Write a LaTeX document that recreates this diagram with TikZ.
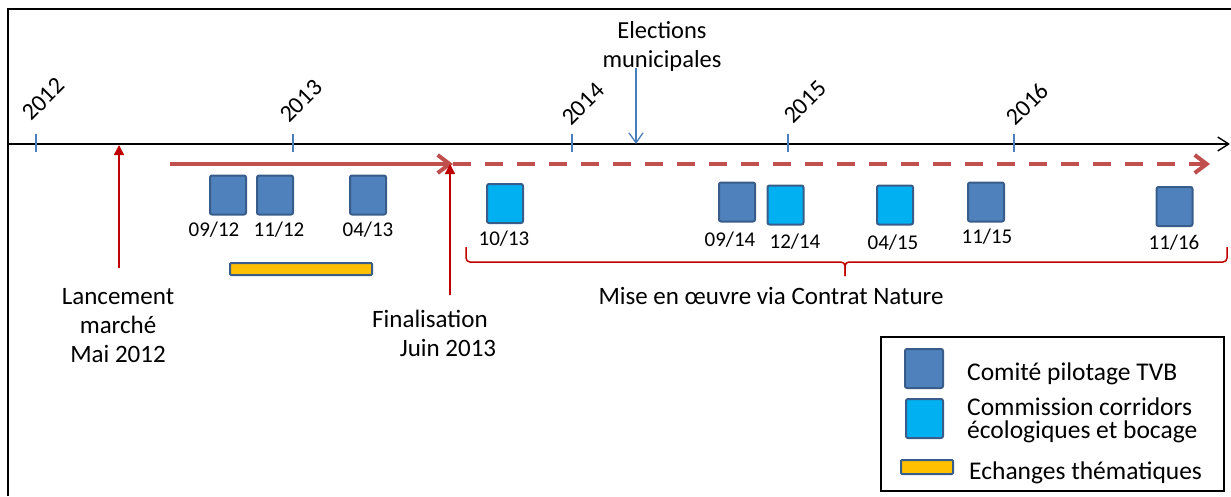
\documentclass[tikz,border=0pt]{standalone}
\usepackage{fontspec}
\setmainfont{Carlito}
\usetikzlibrary{arrows.meta}
\definecolor{dkblue}{HTML}{4F81BD}
\definecolor{bordblue}{HTML}{385D8A}
\definecolor{ltblue}{HTML}{00B0F0}
\definecolor{orangebar}{HTML}{FFC000}
\definecolor{darkred}{HTML}{C00000}
\definecolor{softred}{HTML}{C0504D}
\definecolor{tickblue}{HTML}{4A7EBB}
\begin{document}
\begin{tikzpicture}[x=1pt,y=-1pt,
  comite/.style={draw=bordblue, fill=dkblue, line width=2pt, rounded corners=2pt, minimum width=36pt, minimum height=39pt, inner sep=0pt},
  commission/.style={comite, fill=ltblue},
  echange/.style={draw=bordblue, fill=orangebar, line width=2pt, rounded corners=1pt, inner sep=0pt},
  datelbl/.style={font=\fontsize{21}{25}\selectfont, inner sep=0pt},
  yearlbl/.style={font=\fontsize{24}{26}\selectfont, rotate=45, inner sep=0pt},
  txt/.style={font=\fontsize{25}{29}\selectfont, align=center, inner sep=0pt},
  legtxt/.style={font=\fontsize{25.5}{23}\selectfont, align=left, inner sep=0pt, anchor=west},
  yeartick/.style={draw=tickblue, line width=1.3pt},
  milestone/.style={draw=darkred, line width=1.5pt, -{Triangle[length=10pt,width=10pt]}},
  phase/.style={draw=softred, line width=4pt, -{Straight Barb[length=12pt,width=18pt]}},
  bracestyle/.style={draw=darkred, line width=1.5pt, rounded corners=4pt},
]
\useasboundingbox (0,0) rectangle (1231,496);
% frame
\draw[line width=2.2pt] (8,496) -- (8,9) -- (1231,9);
% axis
\coordinate (axs) at (8,144);
\coordinate (axe) at (1230,144);
\draw[line width=1.4pt, -{Straight Barb[length=11pt,width=14pt]}] (axs) -- (axe);
% ticks and years
\coordinate (t12a) at (36,134); \coordinate (t12b) at (36,152);
\coordinate (t13a) at (293,134); \coordinate (t13b) at (293,152);
\coordinate (t14a) at (572,134); \coordinate (t14b) at (572,152);
\coordinate (t15a) at (788,134); \coordinate (t15b) at (788,152);
\coordinate (t16a) at (1014,134); \coordinate (t16b) at (1014,152);
\draw[yeartick] (t12a) -- (t12b);
\draw[yeartick] (t13a) -- (t13b);
\draw[yeartick] (t14a) -- (t14b);
\draw[yeartick] (t15a) -- (t15b);
\draw[yeartick] (t16a) -- (t16b);
\node[yearlbl] (y12) at (43.5,99) {2012};
\node[yearlbl] (y13) at (301,101) {2013};
\node[yearlbl] (y14) at (583,104) {2014};
\node[yearlbl] (y15) at (805,102) {2015};
\node[yearlbl] (y16) at (1027.5,104) {2016};
% elections
\node[txt, font=\fontsize{24.5}{29}\selectfont] (elec) at (662,46) {Elections\\municipales};
\coordinate (elecs) at (636,68);
\coordinate (elece) at (636,144);
\draw[draw=tickblue, line width=1.3pt, -{Straight Barb[length=10pt,width=14pt]}] (elecs) -- (elece);
% phases
\coordinate (p1s) at (170,164);
\coordinate (p1e) at (453,164);
\coordinate (p2e) at (1210,164);
\draw[phase] (p1s) -- (p1e);
\draw[phase, dash pattern=on 18pt off 14pt] (p1e) -- (p2e);
% milestones
\node[txt] (lanc) at (118,326) {Lancement\\marché\\Mai 2012};
\coordinate (lancs) at (119,268);
\coordinate (lance) at (119,145);
\draw[milestone] (lancs) -- (lance);
\node[txt] (fin) at (430,333) {Finalisation\\\hspace*{36pt}Juin 2013};
\coordinate (fins) at (450,295);
\coordinate (fine) at (450,164);
\draw[milestone] (fins) -- (fine);
% meetings
\node[comite] (m1) at (228,195) {};
\node[comite] (m2) at (275,195) {};
\node[comite] (m3) at (368,195) {};
\node[commission] (m4) at (505,203.5) {};
\node[comite] (m5) at (737,202) {};
\node[commission] (m6) at (785.5,205) {};
\node[commission] (m7) at (895,205) {};
\node[comite] (m8) at (986,202) {};
\node[comite] (m9) at (1174.5,206.5) {};
\node[datelbl] (d1) at (214,230) {09/12};
\node[datelbl] (d2) at (279,230) {11/12};
\node[datelbl] (d3) at (368,230) {04/13};
\node[datelbl] (d4) at (504,239) {10/13};
\node[datelbl] (d5) at (730,240) {09/14};
\node[datelbl] (d6) at (795,242) {12/14};
\node[datelbl] (d7) at (893,243) {04/15};
\node[datelbl] (d8) at (987,237) {11/15};
\node[datelbl] (d9) at (1174,243) {11/16};
% thematic exchanges
\node[echange, minimum width=142pt, minimum height=12pt] (ech) at (301,269) {};
% brace
\coordinate (bl) at (466,247);
\coordinate (br) at (1227,247);
\coordinate (bm) at (845,276);
\draw[bracestyle] (bl) |- (845,262) -- (bm);
\draw[bracestyle] (br) |- (845,262) -- (bm);
\node[txt] (mise) at (771,296) {Mise en œuvre via Contrat Nature};
% legend
\draw[line width=1.4pt] (881,337) rectangle (1224,491);
\node[comite, minimum width=38pt, minimum height=39pt] (lg1) at (924,368.5) {};
\node[commission, minimum width=37pt, minimum height=39pt] (lg2) at (924.5,418.5) {};
\node[echange, minimum width=52pt, minimum height=14pt] (lg3) at (927,467) {};
\node[legtxt] (lt1) at (967,374) {Comité pilotage TVB};
\node[legtxt] (lt2) at (967,420) {Commission corridors\\écologiques et bocage};
\node[legtxt] (lt3) at (969,473) {Echanges thématiques};
\end{tikzpicture}
\end{document}
